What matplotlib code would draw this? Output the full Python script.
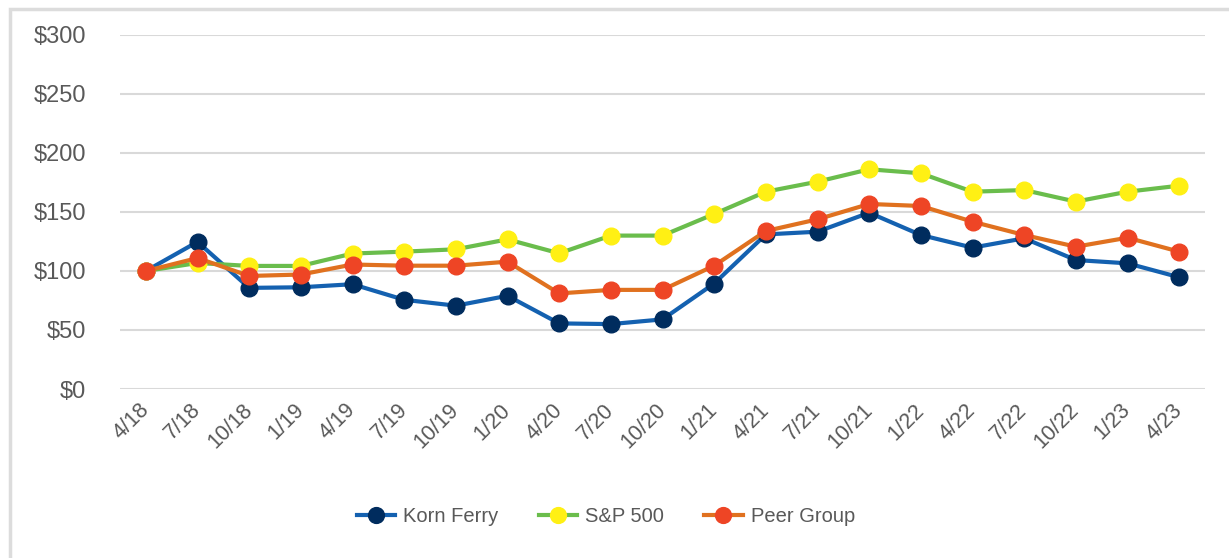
import matplotlib
matplotlib.use("Agg")
import matplotlib.pyplot as plt
from matplotlib.patches import Rectangle
from matplotlib.ticker import FuncFormatter

quarters = ["4/18", "7/18", "10/18", "1/19", "4/19", "7/19", "10/19", "1/20", "4/20", "7/20",
            "10/20", "1/21", "4/21", "7/21", "10/21", "1/22", "4/22", "7/22", "10/22", "1/23", "4/23"]

korn_ferry = [100, 124.7, 85.7, 86.2, 88.8, 75.6, 70.6, 79, 55.6, 55, 59,
              89.4, 131, 133.3, 149.4, 130.5, 119.8, 127.7, 109.3, 106.5, 94.7]
sp500 = [100, 106.8, 104.3, 104.3, 114.8, 116.4, 118.4, 126.8, 115, 130, 130,
         148.3, 167.2, 175.7, 186.2, 182.8, 167.2, 168.6, 158.8, 167.2, 172.3]
peer_group = [100, 111, 95.8, 97, 105.5, 104.5, 104.5, 107.9, 81, 84, 84,
              104.5, 133.9, 143.8, 156.8, 155.1, 141.8, 130.5, 120.6, 128.2, 116.4]

yticks = [0, 50, 100, 150, 200, 250, 300]

plt.rcParams['font.family'] = ['Liberation Sans', 'DejaVu Sans']
text_color = "#595959"
grid_color = "#d9d9d9"

fig = plt.figure(figsize=(12.29, 5.58), dpi=100)
ax = fig.add_axes([120 / 1229, 1 - 389 / 558, 1085 / 1229, 354 / 558])

# outer frame like the exported chart area
fig.patches.append(Rectangle((10 / 1229, -0.1), 1.2, 1.1 - 9 / 558, transform=fig.transFigure,
                             fill=False, edgecolor="#dcdcdc", linewidth=2.5))

x = list(range(len(quarters)))
ms = 12
lw = 3
ax.plot(x, korn_ferry, color="#1461b0", lw=lw, marker="o", ms=ms,
        mfc="#002c5e", mec="#002c5e", label="Korn Ferry", zorder=3)
ax.plot(x, sp500, color="#6abd4c", lw=lw, marker="o", ms=ms,
        mfc="#fff014", mec="#fff014", label="S&P 500", zorder=4)
ax.plot(x, peer_group, color="#e0711f", lw=lw, marker="o", ms=ms,
        mfc="#ee4525", mec="#ee4525", label="Peer Group", zorder=5)

ax.set_xlim(-0.5, len(quarters) - 0.5)
ax.set_ylim(0, 300)
ax.set_yticks(yticks)
ax.yaxis.set_major_formatter(FuncFormatter(lambda v, p: "$%d" % v))
ax.set_xticks(x)
ax.set_xticklabels(quarters, rotation=45, ha="right", va="center", rotation_mode="anchor")

ax.grid(axis="y", color=grid_color, lw=1.5, zorder=0)
ax.set_axisbelow(True)
for s in ax.spines.values():
    s.set_visible(False)
ax.tick_params(axis="both", length=0, colors=text_color)
ax.tick_params(axis="y", pad=24.5, labelsize=17)
ax.tick_params(axis="x", pad=13, labelsize=15.5)

fig.legend(loc="center", bbox_to_anchor=(0.493, 1 - 517 / 558), ncol=3, frameon=False,
           fontsize=14.5, labelcolor=text_color, handlelength=1.9, columnspacing=2.0,
           handletextpad=0.4, markerscale=0.95)

fig.savefig("out.png", dpi=100)
